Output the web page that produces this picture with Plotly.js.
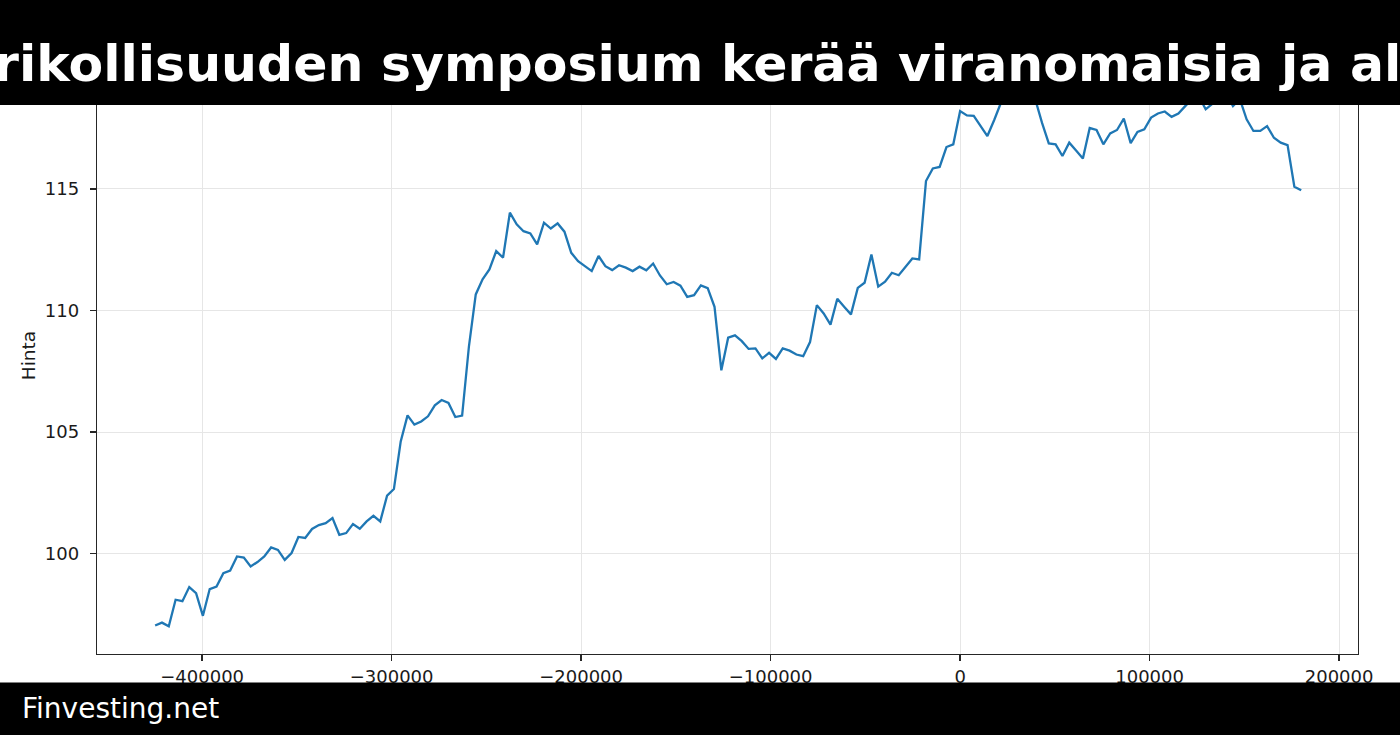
<!DOCTYPE html>
<html>
<head>
<meta charset="utf-8">
<script src="https://cdn.plot.ly/plotly-3.0.1.min.js"></script>
<style>
  html, body { margin: 0; padding: 0; background: #ffffff; overflow: hidden; }
  #chart { width: 1400px; height: 735px; }
</style>
</head>
<body>
<div id="chart"></div>
<script>
// ---- data (x in seconds, hourly steps) ----
const timeSeconds = [
  -424800, -421200, -417600, -414000, -410400, -406800, -403200, -399600, -396000, -392400,
  -388800, -385200, -381600, -378000, -374400, -370800, -367200, -363600, -360000, -356400,
  -352800, -349200, -345600, -342000, -338400, -334800, -331200, -327600, -324000, -320400,
  -316800, -313200, -309600, -306000, -302400, -298800, -295200, -291600, -288000, -284400,
  -280800, -277200, -273600, -270000, -266400, -262800, -259200, -255600, -252000, -248400,
  -244800, -241200, -237600, -234000, -230400, -226800, -223200, -219600, -216000, -212400,
  -208800, -205200, -201600, -198000, -194400, -190800, -187200, -183600, -180000, -176400,
  -172800, -169200, -165600, -162000, -158400, -154800, -151200, -147600, -144000, -140400,
  -136800, -133200, -129600, -126000, -122400, -118800, -115200, -111600, -108000, -104400,
  -100800, -97200, -93600, -90000, -86400, -82800, -79200, -75600, -72000, -68400,
  -64800, -61200, -57600, -54000, -50400, -46800, -43200, -39600, -36000, -32400,
  -28800, -25200, -21600, -18000, -14400, -10800, -7200, -3600, 0, 3600,
  7200, 10800, 14400, 18000, 21600, 25200, 28800, 32400, 36000, 39600,
  43200, 46800, 50400, 54000, 57600, 61200, 64800, 68400, 72000, 75600,
  79200, 82800, 86400, 90000, 93600, 97200, 100800, 104400, 108000, 111600,
  115200, 118800, 122400, 126000, 129600, 133200, 136800, 140400, 144000, 147600,
  151200, 154800, 158400, 162000, 165600, 169200, 172800, 176400, 180000
];
const price = [
  97.05, 97.17, 97.02, 98.11, 98.05, 98.63, 98.38, 97.45, 98.55, 98.65,
  99.20, 99.31, 99.89, 99.84, 99.48, 99.66, 99.89, 100.26, 100.16, 99.75,
  100.03, 100.69, 100.65, 101.02, 101.18, 101.26, 101.47, 100.78, 100.85, 101.22,
  101.03, 101.33, 101.56, 101.33, 102.39, 102.66, 104.62, 105.69, 105.31, 105.44,
  105.65, 106.10, 106.32, 106.20, 105.62, 105.68, 108.53, 110.66, 111.28, 111.69,
  112.44, 112.17, 114.02, 113.54, 113.26, 113.17, 112.72, 113.61, 113.37, 113.58,
  113.24, 112.37, 112.03, 111.82, 111.62, 112.24, 111.82, 111.66, 111.86, 111.76,
  111.62, 111.80, 111.65, 111.93, 111.44, 111.08, 111.17, 111.02, 110.56, 110.63,
  111.03, 110.92, 110.15, 107.54, 108.88, 108.98, 108.74, 108.42, 108.44, 108.03,
  108.26, 108.01, 108.44, 108.35, 108.19, 108.12, 108.70, 110.22, 109.88, 109.42,
  110.48, 110.15, 109.84, 110.93, 111.14, 112.30, 110.98, 111.18, 111.55, 111.45,
  111.80, 112.14, 112.10,
  115.32, 115.84, 115.90, 116.72, 116.83, 118.20, 118.02, 118.00, 117.58, 117.17,
  117.83, 118.55, 119.10, 119.50, 119.70, 119.30, 118.70, 117.72, 116.87, 116.83,
  116.35, 116.90, 116.58, 116.25, 117.50, 117.42, 116.83, 117.28, 117.42, 117.89,
  116.88, 117.34, 117.45, 117.93, 118.10, 118.18, 117.96, 118.10, 118.40, 118.70,
  118.80, 118.27, 118.50, 118.80, 118.90, 118.40, 118.70, 117.86, 117.38, 117.38,
  117.58, 117.10, 116.90, 116.80, 115.09, 114.94
];
const xTickVals = [-400000, -300000, -200000, -100000, 0, 100000, 200000];
const xTickText = ['\u2212400000', '\u2212300000', '\u2212200000', '\u2212100000', '0', '100000', '200000'];
const yTickVals = [100, 105, 110, 115];
const yTickText = ['100', '105', '110', '115'];
const titleText = 'Talousrikollisuuden symposium kerää viranomaisia ja alan asiantuntijoita';
const titlePrefix = 'Talous';
const yAxisLabel = 'Hinta';
const brandText = 'Finvesting.net';

// ---- layout geometry (pixels) ----
const W = 1400, H = 735;
const mL = 97, mR = 42, mT = 57, mB = 81;
const plotW = W - mL - mR, plotH = H - mT - mB;
const px2paperX = px => (px - mL) / plotW;
const py2paperY = py => (H - mB - py) / plotH;

const FONT = '"DejaVu Sans", Verdana, sans-serif';
const titleSize = 50.5;

// measure hidden prefix so the visible part starts at the left edge
const cv = document.createElement('canvas').getContext('2d');
cv.font = 'bold ' + titleSize + 'px "DejaVu Sans"';
const prefixW = cv.measureText(titlePrefix).width;
const titleStartPx = -8 - prefixW;

const trace = {
  x: timeSeconds,
  y: price,
  type: 'scatter',
  mode: 'lines',
  line: { color: '#1f77b4', width: 2.3 },
  hoverinfo: 'x+y'
};

const axisCommon = {
  showgrid: true,
  gridcolor: '#e6e6e6',
  gridwidth: 1,
  zeroline: false,
  showline: true,
  mirror: true,
  linecolor: '#262626',
  linewidth: 1.3,
  ticks: 'outside',
  ticklen: 6,
  tickwidth: 1.3,
  tickcolor: '#262626',
  tickfont: { family: FONT, size: 18, color: '#1a1a1a' },
  tickmode: 'array'
};

const layout = {
  width: W,
  height: H,
  margin: { l: mL, r: mR, t: mT, b: mB, pad: 0 },
  paper_bgcolor: '#ffffff',
  plot_bgcolor: '#ffffff',
  showlegend: false,
  font: { family: FONT, color: '#1a1a1a' },
  xaxis: Object.assign({}, axisCommon, {
    range: [-455480, 209980],
    tickvals: xTickVals,
    ticktext: xTickText
  }),
  yaxis: Object.assign({}, axisCommon, {
    range: [95.88, 120.42],
    tickvals: yTickVals,
    ticktext: yTickText,
    ticklabelstandoff: 7,
    title: { text: yAxisLabel, font: { family: FONT, size: 18.5, color: '#1a1a1a' }, standoff: 4 }
  }),
  shapes: [
    {
      type: 'rect', xref: 'paper', yref: 'paper', layer: 'above',
      x0: px2paperX(-20), x1: px2paperX(W + 20),
      y0: py2paperY(105), y1: py2paperY(-20),
      fillcolor: '#000000', line: { width: 0 }
    },
    {
      type: 'rect', xref: 'paper', yref: 'paper', layer: 'above',
      x0: px2paperX(-20), x1: px2paperX(W + 20),
      y0: py2paperY(H + 20), y1: py2paperY(682.5),
      fillcolor: '#000000', line: { width: 0 }
    }
  ],
  annotations: [
    {
      text: '<b>' + titleText + '</b>',
      xref: 'paper', yref: 'paper',
      x: px2paperX(titleStartPx), y: py2paperY(63),
      xanchor: 'left', yanchor: 'middle',
      showarrow: false,
      font: { family: FONT, size: titleSize, color: '#ffffff' }
    },
    {
      text: brandText,
      xref: 'paper', yref: 'paper',
      x: px2paperX(20), y: py2paperY(708),
      xanchor: 'left', yanchor: 'middle',
      showarrow: false,
      font: { family: FONT, size: 28, color: '#ffffff' }
    }
  ]
};

Plotly.newPlot('chart', [trace], layout, { displayModeBar: false, staticPlot: true });
</script>
</body>
</html>
